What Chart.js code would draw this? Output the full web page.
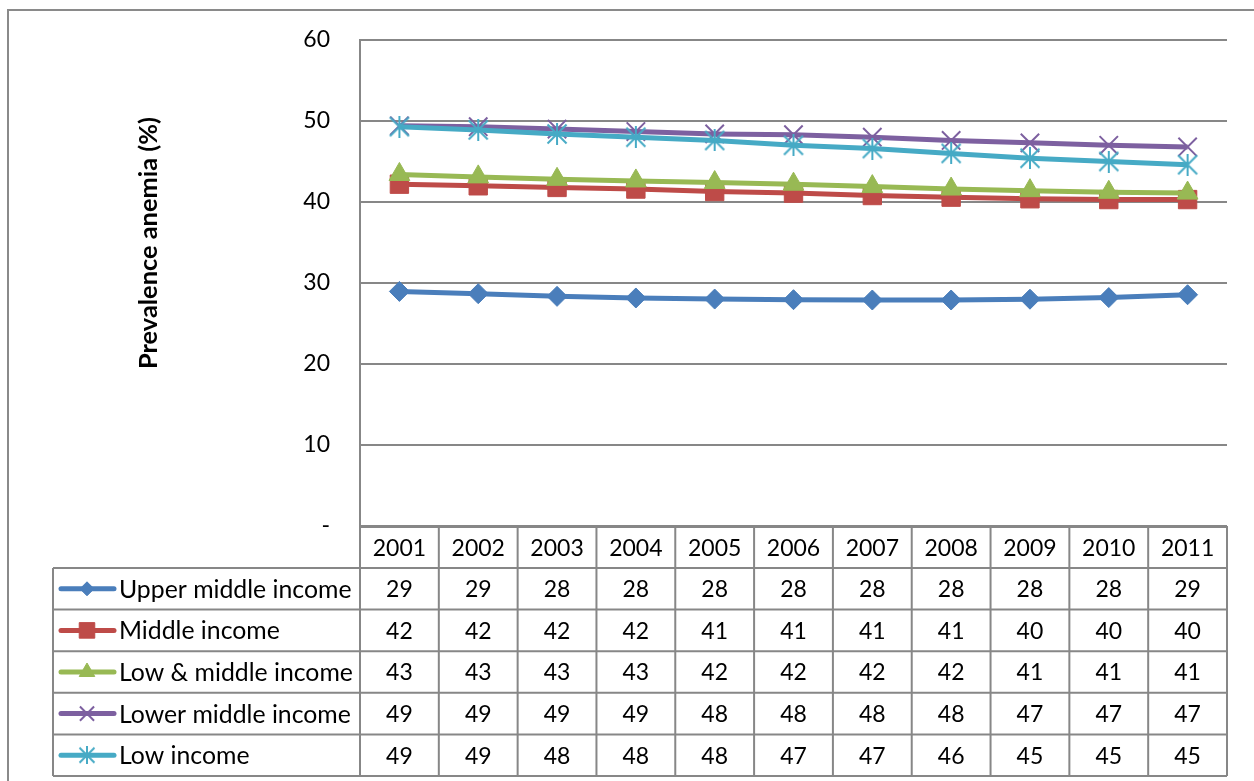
<!DOCTYPE html>
<html>
<head>
<meta charset="utf-8">
<script src="https://cdn.jsdelivr.net/npm/chart.js@4.4.1/dist/chart.umd.min.js"></script>
<style>
  html, body { margin: 0; padding: 0; background: #ffffff; }
  #wrap { width: 1254px; height: 781px; position: relative; }
</style>
</head>
<body>
<div id="wrap"><canvas id="c" width="1254" height="781"></canvas></div>
<script>
// ---- data ----
const years = ['2001','2002','2003','2004','2005','2006','2007','2008','2009','2010','2011'];
const seriesNames = ['Upper middle income','Middle income','Low & middle income','Lower middle income','Low income'];
const upperMiddle = [28.96, 28.68, 28.35, 28.15, 28.02, 27.94, 27.9, 27.9, 28.0, 28.2, 28.55];
const middle      = [42.2, 42.0, 41.8, 41.6, 41.3, 41.1, 40.8, 40.6, 40.4, 40.3, 40.3];
const lowMiddle   = [43.4, 43.1, 42.8, 42.6, 42.4, 42.2, 41.9, 41.6, 41.4, 41.2, 41.1];
const lowerMiddle = [49.4, 49.3, 49.0, 48.7, 48.4, 48.3, 48.0, 47.6, 47.3, 47.0, 46.8];
const lowIncome   = [49.3, 48.9, 48.4, 48.0, 47.6, 47.0, 46.6, 46.0, 45.4, 45.0, 44.6];
const yTicks = [0, 10, 20, 30, 40, 50, 60];
const yTitle = 'Prevalence anemia (%)';

const colors = ['#4A7EBB', '#BE4B48', '#98B954', '#7D60A0', '#46AAC5'];
const FONT = 'Lato, "Open Sans", "DejaVu Sans", sans-serif';

// asterisk marker (Excel "star")
function makeStar(color, size, lw) {
  const c = document.createElement('canvas');
  c.width = size; c.height = size;
  const g = c.getContext('2d');
  g.strokeStyle = color; g.lineWidth = lw; g.lineCap = 'butt';
  const m = lw / 2 + 0.5, s = size;
  g.beginPath();
  g.moveTo(m, m); g.lineTo(s - m, s - m);
  g.moveTo(s - m, m); g.lineTo(m, s - m);
  g.moveTo(s / 2, 0); g.lineTo(s / 2, s);
  g.stroke();
  return c;
}
const starBig = makeStar(colors[4], 22, 2);
const starSmall = makeStar(colors[4], 18, 2);

const styles = [
  { pointStyle: 'rectRot', radius: 10, legendRadius: 7 },
  { pointStyle: 'rect', radius: 13, legendRadius: 11 },
  { pointStyle: 'triangle', radius: 12, legendRadius: 9 },
  { pointStyle: 'crossRot', radius: 13, legendRadius: 10 },
  { pointStyle: starBig, radius: 11, legendRadius: 9, legendImg: starSmall }
];
const allSeries = [upperMiddle, middle, lowMiddle, lowerMiddle, lowIncome];

const datasets = allSeries.map((vals, i) => ({
  label: seriesNames[i],
  data: vals,
  borderColor: colors[i],
  backgroundColor: colors[i],
  borderWidth: 5,
  pointStyle: styles[i].pointStyle,
  pointRadius: styles[i].radius,
  pointHoverRadius: styles[i].radius,
  pointBorderWidth: (i === 3) ? 2 : 1,
  pointBorderColor: colors[i],
  pointBackgroundColor: colors[i],
  tension: 0,
  order: 4 - i
}));

const GRID = '#878787';

const frameAndTable = {
  id: 'frameAndTable',
  beforeDraw(chart) {
    const ctx = chart.ctx;
    ctx.save();
    ctx.fillStyle = '#ffffff';
    ctx.fillRect(0, 0, chart.width, chart.height);
    ctx.strokeStyle = '#8a8a8a';
    ctx.lineWidth = 2;
    ctx.strokeRect(8, 10, chart.width + 20, chart.height + 20);
    ctx.restore();
  },
  afterDraw(chart) {
    const ctx = chart.ctx;
    const xs = chart.scales.x;
    const area = chart.chartArea;
    const half = (xs.getPixelForValue(1) - xs.getPixelForValue(0)) / 2;
    const left = area.left, right = area.right;
    const headTop = area.bottom + 1;
    const headH = 41;
    const rowH = 41.6;
    const legLeft = 53;
    const bottom = headTop + headH + rowH * seriesNames.length;

    ctx.save();
    ctx.strokeStyle = GRID;
    ctx.lineWidth = 2;
    // horizontal lines
    ctx.beginPath();
    ctx.moveTo(left, headTop); ctx.lineTo(right, headTop);
    for (let r = 0; r <= seriesNames.length; r++) {
      const y = headTop + headH + rowH * r;
      ctx.moveTo(legLeft, y); ctx.lineTo(right, y);
    }
    // vertical lines
    for (let i = 0; i <= years.length; i++) {
      const x = (i < years.length) ? xs.getPixelForValue(i) - half : xs.getPixelForValue(years.length - 1) + half;
      ctx.moveTo(x, area.bottom); ctx.lineTo(x, bottom);
    }
    ctx.moveTo(legLeft, headTop + headH); ctx.lineTo(legLeft, bottom);
    ctx.stroke();

    // header text
    ctx.fillStyle = '#000000';
    ctx.font = '23px ' + FONT;
    ctx.textAlign = 'center';
    ctx.textBaseline = 'middle';
    years.forEach((yr, i) => {
      ctx.fillText(yr, xs.getPixelForValue(i), headTop + headH / 2 + 1);
    });
    // rows
    allSeries.forEach((vals, r) => {
      const cy = headTop + headH + rowH * r + rowH / 2 + 1;
      ctx.textAlign = 'center';
      ctx.fillStyle = '#000000';
      ctx.font = '23px ' + FONT;
      vals.forEach((v, i) => {
        ctx.fillText(String(Math.round(v)), xs.getPixelForValue(i), cy);
      });
      // legend key
      const ly = cy - 1;
      ctx.strokeStyle = colors[r];
      ctx.lineWidth = 5;
      ctx.lineCap = 'round';
      ctx.beginPath();
      ctx.moveTo(61, ly); ctx.lineTo(114, ly);
      ctx.stroke();
      ctx.lineCap = 'butt';
      const st = styles[r];
      const pStyle = st.legendImg || st.pointStyle;
      ctx.fillStyle = colors[r];
      ctx.strokeStyle = colors[r];
      ctx.lineWidth = (r === 3) ? 2 : 1;
      Chart.helpers.drawPoint(ctx, { pointStyle: pStyle, radius: st.legendRadius, borderWidth: ctx.lineWidth, rotation: 0 }, 87, ly);
      ctx.fillStyle = '#000000';
      ctx.textAlign = 'left';
      ctx.font = '24.8px ' + FONT;
      ctx.fillText(seriesNames[r], 119, cy);
    });

    // y axis title
    ctx.save();
    ctx.translate(149, 243);
    ctx.rotate(-Math.PI / 2);
    ctx.font = '700 25.4px ' + FONT;
    ctx.fillStyle = '#000000';
    ctx.textAlign = 'center';
    ctx.textBaseline = 'middle';
    ctx.fillText(yTitle, 0, 0);
    ctx.restore();
    ctx.restore();
  }
};

new Chart(document.getElementById('c'), {
  type: 'line',
  data: { labels: years, datasets },
  plugins: [frameAndTable],
  options: {
    responsive: false,
    animation: false,
    devicePixelRatio: 1,
    layout: { padding: { left: 0, right: 27, top: 40, bottom: 255 } },
    plugins: { legend: { display: false }, tooltip: { enabled: false }, title: { display: false } },
    scales: {
      x: {
        type: 'category',
        offset: true,
        display: false
      },
      y: {
        min: 0, max: 60,
        afterBuildTicks: (s) => { s.ticks = yTicks.map(v => ({ value: v })); },
        afterFit: (s) => { s.width = 360; s.paddingTop = 0; s.paddingBottom = 0; },
        ticks: {
          padding: 30,
          color: '#000000',
          font: { family: FONT, size: 23 },
          callback: (v) => v === 0 ? '-' : String(v)
        },
        grid: { color: GRID, lineWidth: 2, drawTicks: false },
        border: { display: true, color: GRID, width: 2 }
      }
    }
  }
});
</script>
</body>
</html>
